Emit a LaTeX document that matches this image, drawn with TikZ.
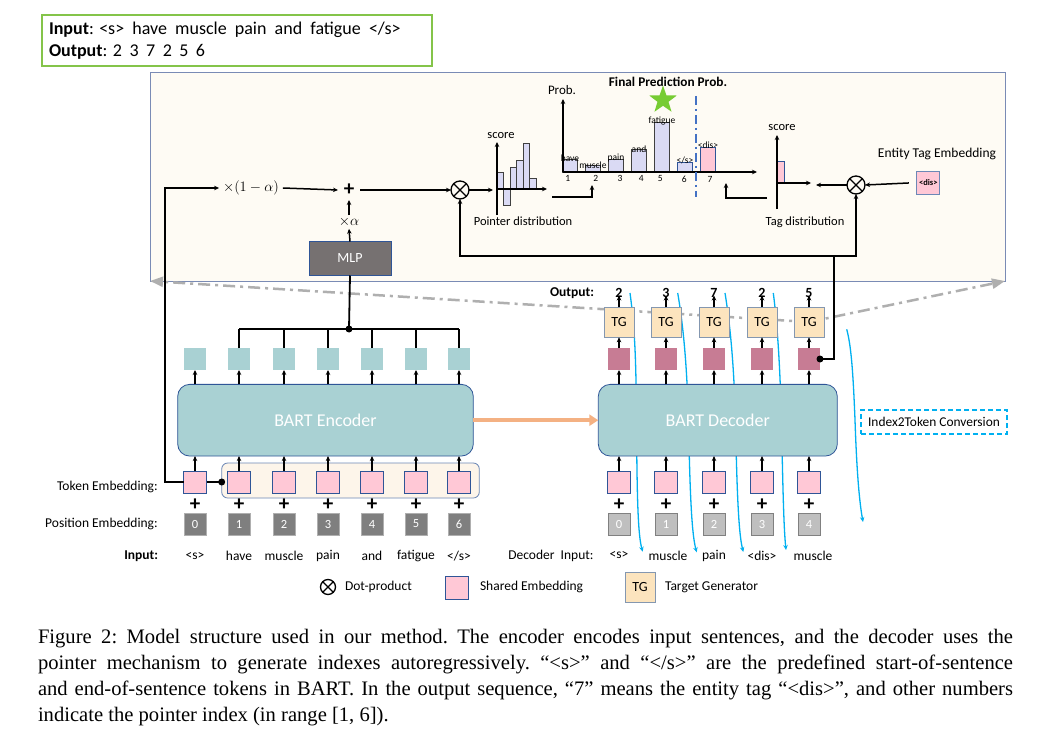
\documentclass[tikz,border=0pt]{standalone}
\usepackage{fontspec}
\setmainfont{Carlito}
\newfontfamily\capfont{Liberation Serif}
\usetikzlibrary{arrows.meta,shapes.geometric,calc}
\definecolor{tealc}{HTML}{A9D1D3}
\definecolor{pinkc}{HTML}{FFC8D6}
\definecolor{mauvec}{HTML}{C77C94}
\definecolor{tgc}{HTML}{FCE4BE}
\definecolor{navyc}{HTML}{2F5597}
\definecolor{tgborder}{HTML}{8497B0}
\definecolor{posdark}{HTML}{7F7F7F}
\definecolor{poslight}{HTML}{BFBFBF}
\definecolor{lavc}{HTML}{DADAF4}
\definecolor{panelfill}{HTML}{FEFBF4}
\definecolor{panelborder}{HTML}{7A8BB5}
\definecolor{cyanc}{HTML}{00B0F0}
\definecolor{orangec}{HTML}{F4B183}
\definecolor{greenbox}{HTML}{84C44A}
\definecolor{starc}{HTML}{77CC33}
\definecolor{grayline}{HTML}{AFAFAF}
\definecolor{dashblue}{HTML}{4472C4}
\definecolor{creamc}{HTML}{FDF5EA}
\definecolor{mlpc}{HTML}{767171}
\newcommand\fsz[1]{\fontsize{#1}{#1}\selectfont}
\begin{document}
\begin{tikzpicture}[x=1pt,y=-1pt,
  every node/.style={inner sep=0pt, outer sep=0pt},
  arr/.style={-{Stealth[length=5pt,width=4.5pt]}, line width=1.5pt},
  conn/.style={line width=1.8pt},
  tealbox/.style={fill=tealc, minimum width=22pt, minimum height=22pt},
  mauvebox/.style={fill=mauvec, minimum width=22pt, minimum height=22pt},
  embbox/.style={fill=pinkc, draw=navyc, line width=0.8pt, minimum width=23pt, minimum height=22pt},
  posd/.style={fill=posdark, draw=grayline, line width=0.8pt, minimum width=22pt, minimum height=22pt, text=white, font=\fsz{12.5}},
  posl/.style={fill=poslight, draw=gray, line width=0.8pt, minimum width=22pt, minimum height=22pt, text=white, font=\fsz{12.5}},
  tgbox/.style={fill=tgc, draw=tgborder, line width=1pt, minimum width=30pt, minimum height=30pt, font=\fsz{14}},
  bigbox/.style={fill=tealc, draw=navyc, line width=0.8pt, rounded corners=12pt, text=white, font=\fsz{18}},
  plussign/.style={font=\fsz{21}\bfseries},
  lbl/.style={font=\fsz{13.5}},
  small/.style={font=\fsz{9.5}},
  otimes/.style={circle, draw, line width=1.3pt, minimum size=18pt, path picture={\draw[line width=1.3pt] (path picture bounding box.north west) -- (path picture bounding box.south east) (path picture bounding box.north east) -- (path picture bounding box.south west);}},
  pbar/.style={fill=lavc, draw=black!75, line width=0.8pt},
  blueflow/.style={cyanc, line width=1.3pt, -{Stealth[length=5pt,width=4.5pt]}},
]
\fill[white] (0,0) rectangle (1038,738);
\useasboundingbox (0,0) rectangle (1038,738);

% ---------- top example box ----------
\node[draw=greenbox, line width=2.5pt, minimum width=390pt, minimum height=51pt, anchor=north west] (iobox) at (42,15) {};
\node[anchor=west, font=\fsz{18}] (intext) at (49,30) {\textbf{Input}: <s>~~have~~muscle~~pain~~and~~fatigue~~</s>};
\node[anchor=west, font=\fsz{18}] (outtext) at (49,52) {\textbf{Output}: 2\hspace{7.5pt}3\hspace{7.5pt}7\hspace{7.5pt}2\hspace{7.5pt}5\hspace{7.5pt}6};

% ---------- panel ----------
\node[fill=panelfill, draw=panelborder, line width=0.9pt, minimum width=855pt, minimum height=209pt, anchor=north west] (panel) at (150,72) {};

% gray zoom lines
\coordinate (tgc5) at (809,322);
\draw[grayline, line width=2.5pt, dash pattern=on 12pt off 5pt on 3pt off 5pt, -{Triangle[length=13pt,width=10pt]}] (tgc5) -- (panel.south west);
\draw[grayline, line width=2.5pt, dash pattern=on 12pt off 5pt on 3pt off 5pt, -{Triangle[length=13pt,width=10pt]}] (tgc5) -- (panel.south east);

% panel content
\node[font=\fsz{14}, inner xsep=4pt] (om) at (251,188) {$\times(1-\alpha)$};
\node[plussign, minimum width=22pt, minimum height=20pt] (plus) at (349,190) {+};
\node[font=\fsz{14}, inner ysep=2pt] (xa) at (349,222) {$\times\alpha$};
\node[fill=mlpc, draw=navyc, line width=0.6pt, minimum width=82pt, minimum height=34pt, text=white, font=\fsz{14}] (mlp) at (350,258.5) {MLP};
\node[otimes] (ot1) at (460,190) {};
\node[otimes] (ot2) at (856,185) {};

\draw[arr] (om.east) -- (plus.west);
\draw[arr] (plus.east) -- (ot1.west);
\draw[arr] (mlp.north) -- (xa.south);
\draw[arr] (xa.north) -- (plus.south);

% pointer distribution chart
\coordinate (pin) at (493,190);
\draw[arr] (ot1.east) -- (pin);
\draw[pbar] (497.7,189) rectangle (503.3,172.7);
\draw[pbar] (503.3,189) rectangle (510,205.7);
\draw[pbar] (510,189) rectangle (516.3,167.3);
\draw[pbar] (516.3,189) rectangle (523,160);
\draw[pbar] (523,189) rectangle (529.3,143.3);
\draw[pbar] (529.3,189) rectangle (536.3,178.3);
\draw[arr] (497,215) -- (497,142);
\draw[arr] (497,189) -- (547,189);
\node[font=\fsz{12.5}] (pscore) at (501,136) {score};
\node[font=\fsz{12.5}] (plab) at (523,221) {Pointer distribution};

% arrow pointer chart -> prob chart
\coordinate (pout) at (552,197);
\coordinate (pint) at (592,185);
\draw[arr] (pout) -| (pint);

% prob chart
\foreach \a/\t/\l/\n/\nx in {562.7/159.3/have/1/567.7, 585.7/165.7/muscle/2/595.7, 608.7/159.3/pain/3/620, 631.7/149.7/and/4/641.3, 654.7/122.3/fatigue/5/660.3}{
  \draw[pbar] (\a,172) rectangle ({\a+14.6},\t);
  \node[small, anchor=south] at ({\a+7.3},{\t+2.5}) {\l};
  \node[small] at (\nx,178.5) {\n};
}
\draw[fill=lavc, draw=navyc, line width=0.9pt] (677.7,172) rectangle (692.3,162.3);
\node[small, anchor=south] at (685,164) {</s>};
\node[small] at (684.3,179) {6};
\draw[fill=pinkc, draw=navyc, line width=0.9pt] (700.7,172) rectangle (715.3,147.3);
\node[small, anchor=south] at (708,149) {<dis>};
\node[small] at (710,179) {7};
\draw[arr] (563,172) -- (563,99);
\draw[arr] (563,172) -- (757,172);
\draw[dashblue, line width=2.2pt, dash pattern=on 9pt off 4pt on 2pt off 4pt] (696,96) -- (696,197);
\node[font=\fsz{13}] (problab) at (562,90) {Prob.};
\node[font=\fsz{13.3}\bfseries] (fpp) at (668,82) {Final Prediction Prob.};
\node[star, star points=5, star point ratio=2.5, fill=starc, minimum size=29pt] (star) at (663,100) {};

% tag chart
\coordinate (tout) at (767,198);
\coordinate (tint) at (726,183);
\draw[arr] (tout) -| (tint);
\draw[fill=pinkc, draw=navyc, line width=0.8pt] (777.7,183) rectangle (784.3,161.7);
\draw[arr] (777,209) -- (777,135);
\draw[arr] (777,183) -- (811,183);
\node[font=\fsz{12.5}] (tscore) at (782,128) {score};
\node[font=\fsz{12.5}] (tlab) at (805,222) {Tag distribution};
\coordinate (tin) at (816,185);
\draw[arr] (ot2.west) -- (tin);
\node[fill=pinkc, draw=navyc!70, line width=0.8pt, minimum width=23pt, minimum height=23pt, font=\fsz{8.5}\bfseries] (disbox) at (928.3,182.6) {<dis>};
\draw[arr, shorten <=8pt] (disbox.west) -- (ot2.east);
\node[font=\fsz{13.5}] (etlab) at (937,154) {Entity Tag Embedding};

% ---------- blue index2token flows (behind decoder) ----------
\draw[blueflow] (630,293) .. controls (635,330) and (636,360) .. (636.5,420) .. controls (637,500) and (638,535) .. (642.7,551.7);
\draw[blueflow] (677.7,293) .. controls (684,330) and (687,370) .. (688.5,420) .. controls (690,500) and (692,535) .. (696.7,552.3);
\draw[blueflow] (725,293) .. controls (731,330) and (734,370) .. (735.5,420) .. controls (737,500) and (739,535) .. (743.3,552);
\draw[blueflow] (773.3,293) .. controls (778,330) and (780,370) .. (781.5,420) .. controls (783,500) and (784,530) .. (786,550);
\draw[blueflow] (846.7,329.3) .. controls (851,345) and (853,370) .. (855,420) .. controls (857,480) and (860,505) .. (863,522);
\node[draw=cyanc, line width=2pt, dash pattern=on 5pt off 3pt, minimum width=146pt, minimum height=24pt, font=\fsz{13.4}] (i2t) at (934,422) {Index2Token Conversion};

% ---------- encoder ----------
\node[bigbox, minimum width=295.6pt, minimum height=71.7pt] (enc) at (325.5,420.2) {BART Encoder};
\node[fill=creamc, draw=navyc!70, line width=0.8pt, rounded corners=6pt, minimum width=257.6pt, minimum height=35pt] (grp) at (350.5,480.5) {};
\foreach \x/\w [count=\i] in {195/{<s>},239/have,284/muscle,328/pain,372/and,416/fatigue,459/{</s>}}{
  \node[tealbox] (eh\i) at (\x,359) {};
  \node[embbox] (et\i) at (\x,482) {};
  \node[plussign] (epl\i) at (\x,505) {+};
  \pgfmathtruncatemacro{\pn}{\i-1}
  \node[posd] (ep\i) at (\x,524) {\pn};
  \node[lbl] (ein\i) at (\x,556) {\w};
  \draw[arr] (eh\i.south |- enc.north) -- (eh\i.south);
  \draw[arr] (et\i.north) -- (et\i.north |- enc.south);
}
\coordinate (bus) at (349,329);
\foreach \i in {2,...,7}{ \draw[conn] (eh\i.north) -- (eh\i.north |- bus); }
\draw[conn] (eh2.north |- bus) -- (eh7.north |- bus);
\fill (bus) circle (3.5pt);
\draw[conn] (bus) -- (mlp.south);
\draw[conn] (et1.east) -- (grp.west |- et1.east);
\fill (grp.west |- et1.east) circle (3.5pt);
\coordinate (lx) at (165,0);
\draw[arr] (et1.west) -| (lx |- om.west) -- (om.west);

\node[lbl, anchor=east] (tel) at (157.7,487) {Token Embedding:};
\node[lbl, anchor=east] (pel) at (157.7,524) {Position Embedding:};
\node[lbl, anchor=east, font=\fsz{13.5}\bfseries] (inl) at (158,556) {Input:};

% ---------- decoder ----------
\node[bigbox, minimum width=239pt, minimum height=71.7pt] (dec) at (717.8,420.2) {BART Decoder};
\foreach \x/\o/\w/\wx [count=\i] in {619/2/{<s>}/619,666/3/muscle/668,714/7/pain/714,762/2/{<dis>}/762,809/5/muscle/813}{
  \node[mauvebox] (dh\i) at (\x,359) {};
  \node[tgbox] (dtg\i) at (\x,322.3) {TG};
  \node[font=\fsz{14}\bfseries] (dout\i) at (\x,293) {\o};
  \node[embbox] (dt\i) at (\x,482) {};
  \node[plussign] (dpl\i) at (\x,505) {+};
  \pgfmathtruncatemacro{\pn}{\i-1}
  \node[posl] (dp\i) at (\x,524) {\pn};
  \node[lbl] (din\i) at (\wx,555.5) {\w};
  \draw[arr] (dh\i.south |- dec.north) -- (dh\i.south);
  \draw[arr] (dh\i.north) -- (dtg\i.south);
  \draw[arr] (dtg\i.north) -- ($(dout\i.center)+(0,2.5)$);
  \draw[arr] (dt\i.north) -- (dt\i.north |- dec.south);
}
\node[anchor=east, font=\fsz{13.5}\bfseries] (outl) at (594,293) {Output:};
\node[anchor=east, lbl] (dinl) at (593.5,555.5) {Decoder~~Input:};

% orange arrow
\draw[orangec, line width=4pt, -{Triangle[length=9pt,width=11pt]}] (enc.east) -- (dec.west |- enc.east);

% decoder state to dot products
\coordinate (jn) at (834,256);
\fill (dh5.east) circle (3.5pt);
\draw[conn] (dh5.east) -| (jn);
\draw[arr] (jn) -| (ot1.south);
\draw[arr] (jn) -| (ot2.south);

% ---------- legend ----------
\node[otimes, minimum size=15pt] (lg1) at (328,587) {};
\node[lbl, anchor=west] (lg1t) at (345,587) {Dot-product};
\node[embbox, minimum width=23pt, minimum height=23pt] (lg2) at (457,587.5) {};
\node[lbl, anchor=west] (lg2t) at (480,587) {Shared Embedding};
\node[tgbox] (lg3) at (640,587) {TG};
\node[lbl, anchor=west] (lg3t) at (665,587) {Target Generator};

% ---------- caption ----------
\node[anchor=north west, text width=975pt, align=justify, font=\capfont\fontsize{20.6}{26}\selectfont\frenchspacing] (cap) at (38,629) {Figure 2: Model structure used in our method. The encoder encodes input sentences, and the decoder uses the\linebreak pointer mechanism to generate indexes autoregressively. “<s>” and “</s>” are the predefined start-of-sentence\linebreak and end-of-sentence tokens in BART. In the output sequence, “7” means the entity tag “<dis>”, and other numbers\linebreak indicate the pointer index (in range [1, 6]).};
\end{tikzpicture}
\end{document}
